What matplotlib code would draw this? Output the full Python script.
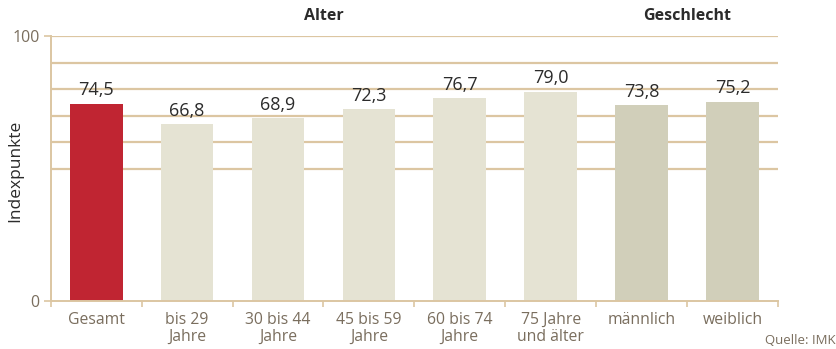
import matplotlib
matplotlib.use("Agg")
import matplotlib.pyplot as plt

# Index values by group
categories = ["Gesamt", "bis 29\nJahre", "30 bis 44\nJahre", "45 bis 59\nJahre",
              "60 bis 74\nJahre", "75 Jahre\nund älter", "männlich", "weiblich"]
values = [74.5, 66.8, 68.9, 72.3, 76.7, 79.0, 73.8, 75.2]
value_labels = ["74,5", "66,8", "68,9", "72,3", "76,7", "79,0", "73,8", "75,2"]
groups = ["total", "age", "age", "age", "age", "age", "sex", "sex"]
group_titles = ["Alter", "Geschlecht"]
group_title_pos = [2.5, 6.5]
yticks = [0, 100]
gridlines = [50, 60, 70, 80, 90, 100]

plt.rcParams["font.family"] = ["Open Sans", "DejaVu Sans"]

colors = {"total": "#c02532", "age": "#e5e3d3", "sex": "#d1cfba"}
tan = "#dcc6a2"
label_col = "#7a6e5e"
dark = "#2b2b2b"

fig = plt.figure(figsize=(8.37, 3.49), dpi=100)
ax = fig.add_axes([0.0606, 0.1375, 0.8689, 0.7593])

x = list(range(len(categories)))
for g in gridlines:
    ax.axhline(g, color=tan, lw=1.6, zorder=0)

ax.bar(x, values, width=0.58, color=[colors[g] for g in groups], zorder=2)
for xi, v, lab in zip(x, values, value_labels):
    ax.text(xi, v + 1.6, lab, ha="center", va="bottom", fontsize=13, color=dark, zorder=3)

for t, p in zip(group_titles, group_title_pos):
    ax.text(p, 104.5, t, ha="center", va="bottom", fontsize=11.5, fontweight="bold", color=dark)

ax.set_xlim(-0.5, len(categories) - 0.5)
ax.set_ylim(0, 100)

ax.set_xticks(x)
ax.set_xticklabels(categories, fontsize=11.3, color=label_col, linespacing=1.05)
ax.set_xticks([i - 0.5 for i in range(len(categories) + 1)], minor=True)
ax.tick_params(axis="x", which="major", length=0, pad=8)
ax.tick_params(axis="x", which="minor", length=4, width=1.2, color=tan)

ax.set_yticks(yticks)
ax.set_yticklabels([str(t) for t in yticks], fontsize=11.5, color=label_col)
ax.tick_params(axis="y", length=5, width=1.2, color=tan, pad=3)

for s in ["top", "right"]:
    ax.spines[s].set_visible(False)
for s in ["left", "bottom"]:
    ax.spines[s].set_color(tan)
    ax.spines[s].set_linewidth(1.4)

ax.set_ylabel("Indexpunkte", fontsize=12.5, color=dark)
ax.yaxis.set_label_coords(-0.038, 0.49)

fig.text(0.998, 0.006, "Quelle: IMK", ha="right", va="bottom", fontsize=9.5, color=label_col)

fig.savefig("out.png", dpi=100)
